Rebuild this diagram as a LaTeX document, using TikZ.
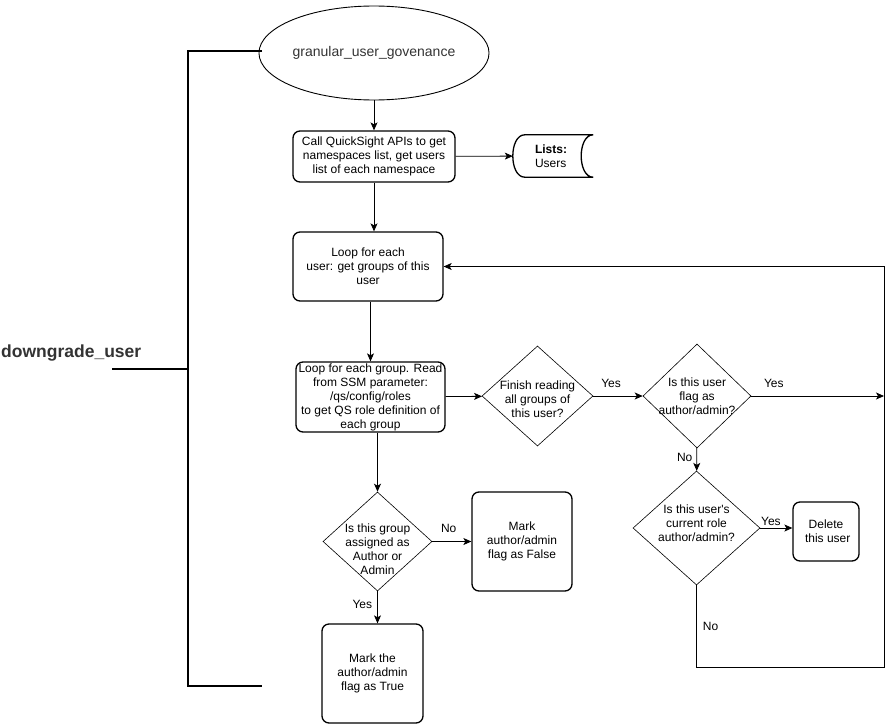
\documentclass[tikz,border=0pt]{standalone}
\usepackage{fontspec}
\setmainfont{Liberation Sans}
\usetikzlibrary{shapes.geometric,arrows.meta,positioning}

\tikzset{
  arr/.style={-{Stealth[length=8pt,width=7pt,inset=2pt]}, line width=0.8pt},
  process/.style={draw, rounded corners=7pt, line width=1.3pt, align=center, inner sep=0pt, font=\fontsize{12}{14}\selectfont},
  decision/.style={draw, diamond, line width=0.6pt, inner sep=0pt},
  dtext/.style={align=center, inner sep=0pt, font=\fontsize{12}{14}\selectfont},
  elabel/.style={inner sep=0pt, font=\fontsize{12}{14}\selectfont},
  brace/.style={line width=2pt},
}

\begin{document}
\begin{tikzpicture}[x=1pt, y=-1pt]
      \useasboundingbox (0,0) rectangle (893,725);
      % bracket on the left
      \coordinate (bracetop) at (262,51);
      \coordinate (bracebot) at (262,686);
      \coordinate (spine) at (188,369);
      \coordinate (stub) at (112,369);
      \draw[brace] (bracetop) -| (spine) |- (bracebot);
      \draw[brace] (stub) -- (spine);
      \node[anchor=west, inner sep=0pt, text=black!80, font=\bfseries\fontsize{17.5}{20}\selectfont] (title) at (1,353) {downgrade\_user};

      % nodes
      \node[draw, ellipse, line width=0.9pt, minimum width=187pt, minimum height=94pt, inner sep=0pt,
        text=black!80, font=\fontsize{14}{16}\selectfont] (start) at (374,53) {granular\_user\_govenance};
      \node[process, minimum width=162pt, minimum height=51pt] (calls) at (374,156.5)
        {Call QuickSight APIs to get\\namespaces list, get users\\list of each namespace};
      \node[align=left, text width=36pt, inner sep=0pt, minimum width=80pt, minimum height=42pt,
        font=\fontsize{12}{14}\selectfont] (lists) at (553,156) {\textbf{Lists:}\\Users};
      \node[process, minimum width=150pt, minimum height=69pt] (userloop) at (368,266.5)
        {Loop for each\\user: get groups of this\\user};
      \node[process, minimum width=149pt, minimum height=70pt] (grouploop) at (370.5,397)
        {Loop for each group. Read\\from SSM parameter:\\/qs/config/roles\\to get QS role definition of\\each group};
      \node[decision, minimum width=111pt, minimum height=100pt,
        label={[dtext, yshift=-3pt]center:{Finish reading\\all groups of\\this user?}}] (finished) at (537.5,396) {};
      \node[decision, minimum width=108pt, minimum height=104pt,
        label={[dtext]center:{Is this user\\flag as\\author/admin?}}] (isflagged) at (697,396) {};
      \node[decision, minimum width=127pt, minimum height=114pt,
        label={[dtext, yshift=5pt]center:{Is this user\textquotesingle s\\current role\\author/admin?}}] (isauthor) at (696.5,528) {};
      \node[process, minimum width=66pt, minimum height=59pt] (deleteuser) at (826,531.5) {Delete\\\ this user};
      \node[decision, minimum width=109pt, minimum height=99pt,
        label={[dtext, yshift=-8pt]center:{Is this group\\assigned as\\Author or\\Admin}}] (isassigned) at (377.5,541.5) {};
      \node[process, minimum width=100pt, minimum height=99pt] (markfalse) at (522,541.5)
        {Mark\\author/admin\\flag as False};
      \node[process, minimum width=101pt, minimum height=99pt] (marktrue) at (372.5,673.5)
        {Mark the\\author/admin\\flag as True};
      \coordinate (loopcorner) at (884,667);

      % stored data outline
      \draw[line width=1.3pt] ([xshift=12pt]lists.north west) -- (lists.north east)
        .. controls ([xshift=-16pt]lists.north east) and ([xshift=-16pt]lists.south east) .. (lists.south east)
        -- ([xshift=12pt]lists.south west)
        .. controls ([xshift=-4pt]lists.south west) and ([xshift=-4pt]lists.north west) .. ([xshift=12pt]lists.north west);

      % connectors
      \begin{scope}[arr]
        \draw (start) -- (calls);
        \draw (calls) -- (lists);
        \draw (calls.south) -- (calls.south |- userloop.north);
        \draw (grouploop.north |- userloop.south) -- (grouploop.north);
        \draw (grouploop) -- (finished);
        \draw (finished) -- node[elabel, pos=0.36, above=8pt] (yes1) {Yes} (isflagged);
        \draw (isflagged.east) -- node[elabel, pos=0.17, above=8pt] (yes2) {Yes} (isflagged.east -| loopcorner);
        \draw (isflagged) -- node[elabel, pos=0.4, left=4pt] (no1) {No} (isauthor);
        \draw (isauthor.east) -- node[elabel, pos=0.33, above=2pt] (yes3) {Yes} (isauthor.east -| deleteuser.west);
        \draw (isauthor.south) -- node[elabel, pos=0.5, right=6pt] (no2) {No} (isauthor.south |- loopcorner)
          -- (loopcorner) |- (userloop.east);
        \draw (grouploop.south -| isassigned.north) -- (isassigned.north);
        \draw (isassigned) -- node[elabel, pos=0.42, above=8pt] (no3) {No} (markfalse);
        \draw (isassigned.south) -- node[elabel, pos=0.42, left=5pt] (yes4) {Yes} (isassigned.south |- marktrue.north);
      \end{scope}
    \end{tikzpicture}
\end{document}
